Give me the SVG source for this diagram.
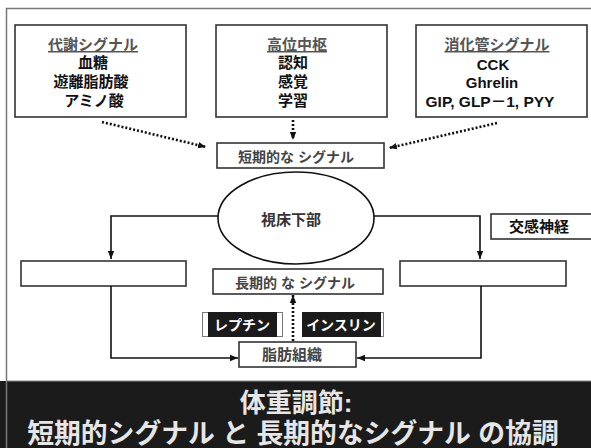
<svg xmlns="http://www.w3.org/2000/svg" width="591" height="448" viewBox="0 0 591 448">
<defs>
<marker id="ah" markerUnits="userSpaceOnUse" markerWidth="8" markerHeight="8" viewBox="0 0 8 8" refX="8" refY="4" orient="auto">
<path d="M0,0.8 L8,4 L0,7.2 Z" fill="#111"/>
</marker>
<style>
.box{fill:#fff;stroke:#333;stroke-width:1.6}
.ln{fill:none;stroke:#111;stroke-width:1.6}
.dot{fill:none;stroke:#111;stroke-width:2.6;stroke-dasharray:2 2}
.jp{font-family:"Liberation Sans","Noto Sans CJK JP",sans-serif;font-weight:bold;text-anchor:middle}
.hd{font-size:15px;fill:#555;text-decoration:underline}
.it{font-size:15px;fill:#111}
.gr{font-size:14px;fill:#444}
.wt{font-size:14px;fill:#fff}
.bt{font-size:26px;fill:#e6e6e6}
</style>
</defs>
<rect width="591" height="448" fill="#fff"/>
<rect x="0" y="381" width="591" height="67" fill="#1b1b1b"/>
<path d="M6.5,448 V8.5 H591" fill="none" stroke="#777" stroke-width="1.5"/>
<line x1="6" y1="381" x2="591" y2="381" stroke="#888" stroke-width="1"/>

<g id="metabolic">
<rect class="box" x="15" y="25" width="171" height="92"/>
<text class="jp hd" x="93" y="50">代謝シグナル</text>
<text class="jp it" x="93" y="68">血糖</text>
<text class="jp it" x="91" y="87">遊離脂肪酸</text>
<text class="jp it" x="94" y="106">アミノ酸</text>
</g>
<g id="higher">
<rect class="box" x="216" y="25" width="171" height="92"/>
<text class="jp hd" x="297" y="50">高位中枢</text>
<text class="jp it" x="293" y="68">認知</text>
<text class="jp it" x="293" y="87">感覚</text>
<text class="jp it" x="293" y="106">学習</text>
</g>
<g id="gut">
<rect class="box" x="416" y="25" width="171" height="92"/>
<text class="jp hd" x="497" y="50">消化管シグナル</text>
<text class="jp it" x="493" y="70">CCK</text>
<text class="jp it" x="492" y="88">Ghrelin</text>
<text class="jp it" x="490" y="107" style="font-size:15.5px">GIP, GLP－1, PYY</text>
</g>
<g id="short">
<rect class="box" x="217" y="143" width="167" height="25"/>
<text class="jp gr" x="296" y="162">短期的な シグナル</text>
</g>
<g id="hypothalamus">
<ellipse cx="296" cy="218" rx="78" ry="46" fill="#fff" stroke="#111" stroke-width="1.6"/>
<text class="jp" x="291" y="225" style="font-size:15px;fill:#333">視床下部</text>
</g>
<g id="sympathetic">
<rect class="box" x="491" y="214" width="110" height="25"/>
<text class="jp it" x="539" y="232">交感神経</text>
</g>
<g id="leftbox">
<rect class="box" x="21" y="261" width="165" height="25"/>
</g>
<g id="rightbox">
<rect class="box" x="400" y="261" width="166" height="25"/>
</g>
<g id="long">
<rect class="box" x="213" y="269" width="170" height="25"/>
<text class="jp gr" x="295" y="288">長期的 な シグナル</text>
</g>
<g id="leptin">
<rect x="202.5" y="312.5" width="80" height="24" fill="#fff" stroke="#777" stroke-width="1"/>
<rect x="208" y="312" width="69" height="25" fill="#1b1b1b"/>
<text class="jp wt" x="242" y="330">レプチン</text>
</g>
<g id="insulin">
<rect x="303" y="312.5" width="80.5" height="24" fill="#fff" stroke="#777" stroke-width="1"/>
<rect x="302" y="312" width="79" height="25" fill="#1b1b1b"/>
<text class="jp wt" x="341" y="330">インスリン</text>
</g>
<g id="fat">
<rect class="box" x="239" y="342" width="117" height="25"/>
<text class="jp gr" x="292" y="360" style="font-size:15px">脂肪組織</text>
</g>
<g id="connectors">
<path class="dot" d="M102,122 L206,147" marker-end="url(#ah)"/>
<path class="dot" d="M293,120 V140" marker-end="url(#ah)"/>
<path class="dot" d="M497,123 L389,148" marker-end="url(#ah)"/>
<path class="ln" d="M218,216 H111 V259" marker-end="url(#ah)"/>
<path class="ln" d="M374,216 H480 V259" marker-end="url(#ah)"/>
<path class="ln" d="M111,286 V358 H238" marker-end="url(#ah)"/>
<path class="ln" d="M481,286 V358 H357" marker-end="url(#ah)"/>
<path class="dot" d="M293,341 V295" marker-end="url(#ah)"/>
</g>
<g id="title">
<text class="jp bt" x="296" y="412">体重調節:</text>
<text class="jp bt" x="293" y="443" style="font-size:26.8px">短期的シグナル と 長期的なシグナル の協調</text>
</g>
</svg>
